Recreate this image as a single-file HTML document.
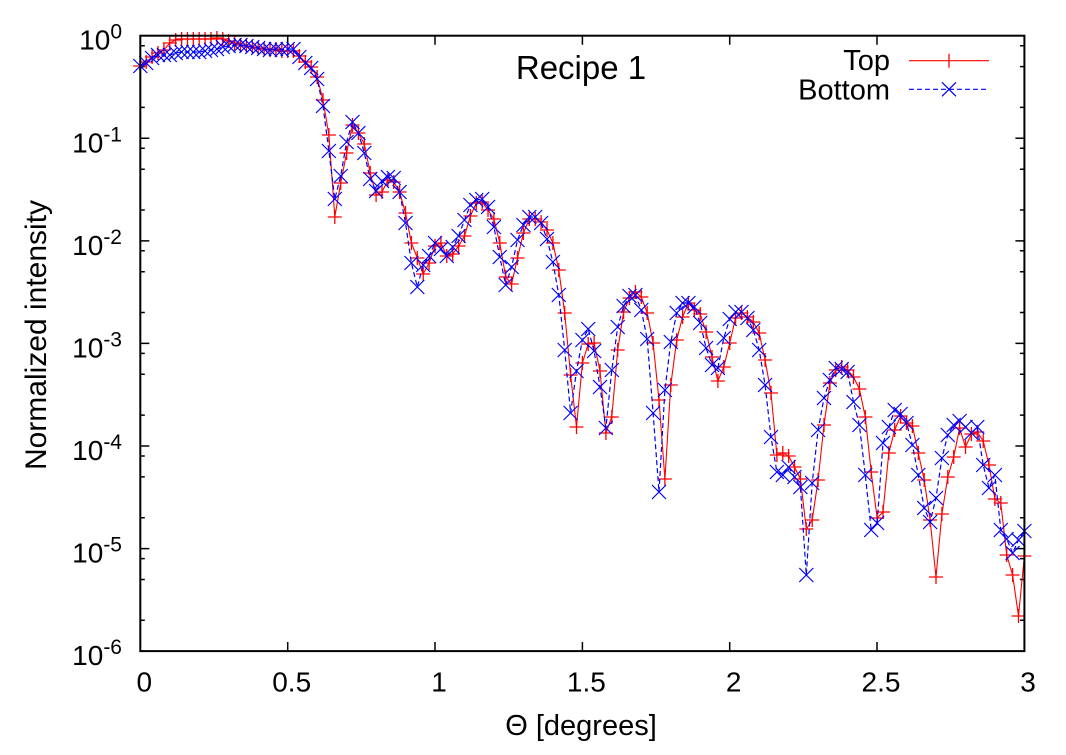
<!DOCTYPE html>
<html><head><meta charset="utf-8"><style>
html,body{margin:0;padding:0;background:#fff;}
svg{display:block;}
text{font-family:"Liberation Sans",Arial,Helvetica,sans-serif;fill:#000;}
</style></head><body>
<svg width="1066" height="755" viewBox="0 0 1066 755" xmlns="http://www.w3.org/2000/svg">
<defs>
<marker id="mp" markerUnits="userSpaceOnUse" markerWidth="16" markerHeight="16" refX="8" refY="8" overflow="visible"><path d="M1 8H15M8 1V15" stroke="#ff0000" stroke-width="1.3" fill="none"/></marker>
<marker id="mx" markerUnits="userSpaceOnUse" markerWidth="16" markerHeight="16" refX="8" refY="8" overflow="visible"><path d="M1 1L15 15M15 1L1 15" stroke="#0000ff" stroke-width="1.2" fill="none"/></marker>
</defs>
<rect width="1066" height="755" fill="#fff"/>

<!-- ticks -->
<g stroke="#000" stroke-width="1.5">
<path d="M140.3 651V642M287.7 651V642M435 651V642M582.4 651V642M729.7 651V642M877 651V642M1024.4 651V642"/>
<path d="M140.3 35.7V44.7M287.7 35.7V44.7M435 35.7V44.7M582.4 35.7V44.7M729.7 35.7V44.7M877 35.7V44.7M1024.4 35.7V44.7"/>
<path d="M140.3 35.7H149.3M140.3 138.3H149.3M140.3 240.9H149.3M140.3 343.4H149.3M140.3 446H149.3M140.3 548.6H149.3M140.3 651.2H149.3"/>
<path d="M1024.4 35.7H1015.4M1024.4 138.3H1015.4M1024.4 240.9H1015.4M1024.4 343.4H1015.4M1024.4 446H1015.4M1024.4 548.6H1015.4M1024.4 651.2H1015.4"/>
<path d="M140.3 45.7h4.5M140.3 66.6h4.5M140.3 107.4h4.5M140.3 148.3h4.5M140.3 169.2h4.5M140.3 210h4.5M140.3 250.8h4.5M140.3 271.7h4.5M140.3 312.5h4.5M140.3 353.4h4.5M140.3 374.3h4.5M140.3 415.1h4.5M140.3 456h4.5M140.3 476.9h4.5M140.3 517.7h4.5M140.3 558.6h4.5M140.3 579.5h4.5M140.3 620.3h4.5"/>
<path d="M1024.4 45.7h-4.5M1024.4 66.6h-4.5M1024.4 107.4h-4.5M1024.4 148.3h-4.5M1024.4 169.2h-4.5M1024.4 210h-4.5M1024.4 250.8h-4.5M1024.4 271.7h-4.5M1024.4 312.5h-4.5M1024.4 353.4h-4.5M1024.4 374.3h-4.5M1024.4 415.1h-4.5M1024.4 456h-4.5M1024.4 476.9h-4.5M1024.4 517.7h-4.5M1024.4 558.6h-4.5M1024.4 579.5h-4.5M1024.4 620.3h-4.5"/>
</g>

<!-- y tick labels -->
<g font-size="28" text-anchor="end">
<text x="122" y="49.7">10<tspan font-size="21" dy="-11">0</tspan></text>
<text x="122" y="152.3">10<tspan font-size="21" dy="-11">-1</tspan></text>
<text x="122" y="254.9">10<tspan font-size="21" dy="-11">-2</tspan></text>
<text x="122" y="357.4">10<tspan font-size="21" dy="-11">-3</tspan></text>
<text x="122" y="460">10<tspan font-size="21" dy="-11">-4</tspan></text>
<text x="122" y="562.6">10<tspan font-size="21" dy="-11">-5</tspan></text>
<text x="122" y="665.2">10<tspan font-size="21" dy="-11">-6</tspan></text>
</g>

<!-- x tick labels -->
<g font-size="28" text-anchor="middle">
<text x="144.3" y="691.7">0</text>
<text x="291.7" y="691.7">0.5</text>
<text x="439" y="691.7">1</text>
<text x="586.4" y="691.7">1.5</text>
<text x="733.7" y="691.7">2</text>
<text x="881" y="691.7">2.5</text>
<text x="1028" y="691.7">3</text>
</g>

<text x="581" y="735" font-size="29" text-anchor="middle">Θ [degrees]</text>
<text transform="translate(46,335) rotate(-90)" font-size="30" text-anchor="middle">Normalized intensity</text>
<text x="581" y="79" font-size="33" text-anchor="middle">Recipe 1</text>

<!-- legend -->
<text x="890" y="70" font-size="29" text-anchor="end">Top</text>
<text x="890" y="99.5" font-size="29" text-anchor="end">Bottom</text>
<path d="M909 60.7H989" stroke="#ff0000" stroke-width="1.1"/>
<path d="M949 53.7V67.7" stroke="#ff0000" stroke-width="1.3"/>
<path d="M909 89.3H989" stroke="#0000ff" stroke-width="1.2" stroke-dasharray="5,3"/>
<path d="M942 82.3L956 96.3M956 82.3L942 96.3" stroke="#0000ff" stroke-width="1.2"/>

<!-- Top series -->
<polyline fill="none" stroke="#ff0000" stroke-width="1.1" stroke-linejoin="round" marker-start="url(#mp)" marker-mid="url(#mp)" marker-end="url(#mp)" points="140.3,66 146.2,62 152.1,57 158.0,53 163.9,50 169.8,43 175.7,40 181.6,39 187.5,39 193.3,39 199.2,39 205.1,39 211.0,39 216.9,38 222.8,39 228.7,41 234.6,43 240.5,45 246.4,46 252.3,47 258.2,48 264.1,49 270.0,50 275.9,49 281.8,51 287.7,51 293.5,51 299.4,56 305.3,62 311.2,67 317.1,77 323.0,100 328.9,135 334.8,217 340.7,183 346.6,153 352.5,125 358.4,133 364.3,144 370.2,173 376.1,195 382.0,192 387.9,180 393.7,182 399.6,192 405.5,213 411.4,243 417.3,258 423.2,274 429.1,263 435.0,246 440.9,243 446.8,256 452.7,254 458.6,246 464.5,236 470.4,216 476.3,203 482.2,202 488.0,210 493.9,219 499.8,243 505.7,277 511.6,284 517.5,258 523.4,233 529.3,219 535.2,219 541.1,222 547.0,230 552.9,243 558.8,270 564.7,313 570.6,375 576.5,427 582.4,363 588.2,344 594.1,343 600.0,371 605.9,433 611.8,417 617.7,350 623.6,312 629.5,298 635.4,292 641.3,297 647.2,313 653.1,343 659.0,400 664.9,479 670.8,385 676.7,340 682.6,317 688.4,303 694.3,310 700.2,314 706.1,332 712.0,357 717.9,381 723.8,367 729.7,343 735.6,318 741.5,313 747.4,317 753.3,322 759.2,333 765.1,360 771.0,393 776.9,455 782.8,453 788.6,456 794.5,467 800.4,479 806.3,529 812.2,520 818.1,480 824.0,425 829.9,383 835.8,370 841.7,367 847.6,370 853.5,377 859.4,389 865.3,417 871.2,472 877.1,518 883.0,512 888.8,453 894.7,430 900.6,416 906.5,423 912.4,426 918.3,453 924.2,480 930.1,520 936.0,577 941.9,514 947.8,477 953.7,457 959.6,428 965.5,447 971.4,434 977.3,432 983.2,441 989.0,465 994.9,499 1000.8,503 1006.7,555 1012.6,575 1018.5,616 1024.4,556"/>

<!-- Bottom series -->
<polyline fill="none" stroke="#0000ff" stroke-width="1.2" stroke-dasharray="5,3" stroke-linejoin="round" marker-start="url(#mx)" marker-mid="url(#mx)" marker-end="url(#mx)" points="140.3,66 146.2,63 152.1,58 158.0,55 163.9,55 169.8,55 175.7,53 181.6,52 187.5,52 193.3,52 199.2,52 205.1,51 211.0,50 216.9,49 222.8,47 228.7,46 234.6,45 240.5,45 246.4,46 252.3,47 258.2,48 264.1,49 270.0,50 275.9,49 281.8,50 287.7,49 293.5,49 299.4,57 305.3,63 311.2,68 317.1,79 323.0,106 328.9,151 334.8,199 340.7,176 346.6,142 352.5,122 358.4,133 364.3,153 370.2,179 376.1,191 382.0,181 387.9,177 393.7,178 399.6,192 405.5,223 411.4,263 417.3,287 423.2,265 429.1,256 435.0,243 440.9,249 446.8,256 452.7,247 458.6,236 464.5,220 470.4,205 476.3,200 482.2,199 488.0,207 493.9,227 499.8,257 505.7,285 511.6,267 517.5,240 523.4,225 529.3,217 535.2,217 541.1,223 547.0,239 552.9,262 558.8,295 564.7,350 570.6,413 576.5,371 582.4,340 588.2,329 594.1,351 600.0,387 605.9,428 611.8,370 617.7,327 623.6,306 629.5,296 635.4,295 641.3,310 647.2,339 653.1,413 659.0,492 664.9,390 670.8,342 676.7,313 682.6,303 688.4,303 694.3,307 700.2,323 706.1,348 712.0,365 717.9,368 723.8,338 729.7,319 735.6,312 741.5,312 747.4,318 753.3,330 759.2,350 765.1,385 771.0,437 776.9,472 782.8,475 788.6,467 794.5,477 800.4,487 806.3,575 812.2,483 818.1,430 824.0,398 829.9,380 835.8,368 841.7,369 847.6,372 853.5,402 859.4,425 865.3,475 871.2,530 877.1,523 883.0,443 888.8,427 894.7,410 900.6,414 906.5,423 912.4,445 918.3,475 924.2,508 930.1,522 936.0,498 941.9,458 947.8,435 953.7,425 959.6,421 965.5,427 971.4,433 977.3,427 983.2,465 989.0,488 994.9,475 1000.8,530 1006.7,539 1012.6,553 1018.5,540 1024.4,531"/>

<!-- frame -->
<rect x="140.3" y="35.7" width="884.1" height="615.4" fill="none" stroke="#000" stroke-width="2"/>
</svg>
</body></html>
